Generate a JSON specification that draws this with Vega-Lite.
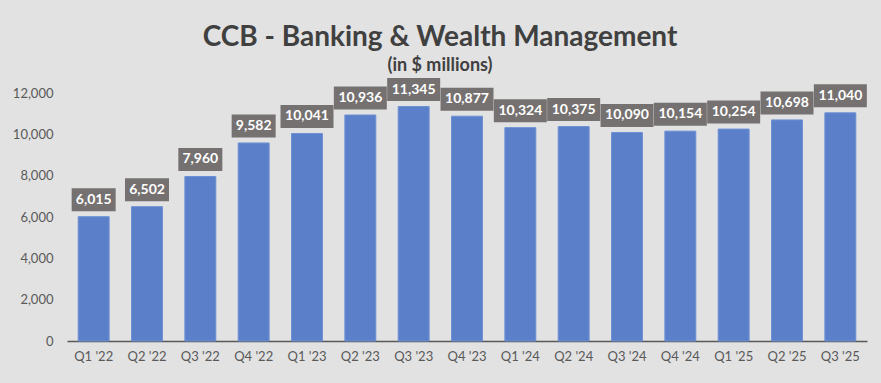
{
  "$schema": "https://vega.github.io/schema/vega-lite/v6.json",
  "autosize": {"type": "none"},
  "width": 800,
  "height": 248,
  "padding": {"left": 67, "top": 93, "right": 14, "bottom": 42},
  "background": "#e2e2e2",
  "config": {"view": {"stroke": null}, "font": "Lato"},
  "title": {
    "text": "CCB - Banking & Wealth Management",
    "subtitle": "(in $ millions)",
    "anchor": "middle",
    "frame": "group",
    "dx": -27,
    "offset": 3,
    "fontSize": 28,
    "fontWeight": "bold",
    "color": "#404040",
    "subtitleFontSize": 18,
    "subtitleFontWeight": "bold",
    "subtitleColor": "#404040",
    "subtitlePadding": 5
  },
  "data": {
    "values": [
      {"q": "Q1 '22", "v": 6015},
      {"q": "Q2 '22", "v": 6502},
      {"q": "Q3 '22", "v": 7960},
      {"q": "Q4 '22", "v": 9582},
      {"q": "Q1 '23", "v": 10041},
      {"q": "Q2 '23", "v": 10936},
      {"q": "Q3 '23", "v": 11345},
      {"q": "Q4 '23", "v": 10877},
      {"q": "Q1 '24", "v": 10324},
      {"q": "Q2 '24", "v": 10375},
      {"q": "Q3 '24", "v": 10090},
      {"q": "Q4 '24", "v": 10154},
      {"q": "Q1 '25", "v": 10254},
      {"q": "Q2 '25", "v": 10698},
      {"q": "Q3 '25", "v": 11040}
    ]
  },
  "encoding": {
    "x": {
      "field": "q",
      "type": "nominal",
      "sort": null,
      "scale": {"paddingInner": 0.42, "paddingOuter": 0.21},
      "axis": {
        "title": null,
        "labelAngle": 0,
        "labelFontSize": 13,
        "labelColor": "#595959",
        "labelPadding": 9,
        "ticks": false,
        "domainColor": "#595959",
        "domainWidth": 1.5
      }
    },
    "y": {
      "field": "v",
      "type": "quantitative",
      "scale": {"domain": [0, 12000], "nice": false},
      "axis": {
        "title": null,
        "values": [0, 2000, 4000, 6000, 8000, 10000, 12000],
        "format": ",.0f",
        "grid": false,
        "domain": false,
        "ticks": false,
        "labelFontSize": 13,
        "labelColor": "#595959",
        "labelPadding": 14
      }
    }
  },
  "layer": [
    {"mark": {"type": "bar", "color": "#5B80C9", "stroke": "#6d90d4", "strokeWidth": 1}},
    {
      "mark": {"type": "tick", "color": "#757170", "opacity": 1, "thickness": 23, "yOffset": -17},
      "encoding": {
        "size": {"condition": {"test": "datum.v >= 10000", "value": 53}, "value": 44}
      }
    },
    {
      "mark": {"type": "text", "color": "#ffffff", "fontWeight": "bold", "fontSize": 14, "baseline": "middle", "dy": -17},
      "encoding": {"text": {"field": "v", "type": "quantitative", "format": ",.0f"}}
    }
  ]
}
